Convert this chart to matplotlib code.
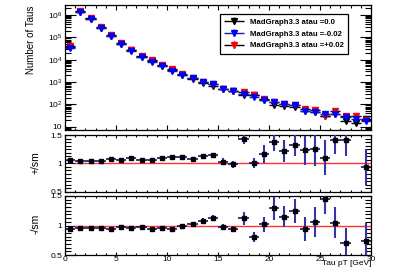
import numpy as np
import matplotlib
matplotlib.use("Agg")
import matplotlib.pyplot as plt
from matplotlib.ticker import MultipleLocator, FixedLocator, FuncFormatter, LogLocator, NullFormatter
from matplotlib.legend_handler import HandlerErrorbar

plt.rcParams['font.family'] = ['Liberation Sans', 'DejaVu Sans']
plt.rcParams['mathtext.fontset'] = 'custom'
plt.rcParams['mathtext.rm'] = 'Liberation Sans'
plt.rcParams['mathtext.default'] = 'regular'

# ---------------- data ----------------
bin_centers = [0.5, 1.5, 2.5, 3.5, 4.5, 5.5, 6.5, 7.5, 8.5, 9.5,
               10.5, 11.5, 12.5, 13.5, 14.5, 15.5, 16.5, 17.5, 18.5, 19.5,
               20.5, 21.5, 22.5, 23.5, 24.5, 25.5, 26.5, 27.5, 28.5, 29.5]

counts_sm = [37200, 1.42e6, 6.95e5, 2.74e5, 1.17e5, 5.15e4, 2.6e4, 1.38e4, 8800, 5260,
             3390, 2150, 1440, 910, 700, 495, 405, 260, 255, 157,
             97, 87, 74, 53, 44, 29, 37, 18, 15, 22]
counts_minus = [35000, 1.35e6, 6.6e5, 2.6e5, 1.1e5, 5.0e4, 2.5e4, 1.35e4, 8300, 5000,
                3200, 2150, 1480, 980, 780, 480, 380, 290, 210, 160,
                125, 100, 93, 50, 47, 39, 39, 28, 23, 18]
counts_plus = [39400, 1.49e6, 7.2e5, 2.87e5, 1.25e5, 5.5e4, 2.85e4, 1.47e4, 9300, 5730,
               3760, 2400, 1550, 1030, 800, 510, 395, 370, 258, 182,
               134, 106, 98, 65, 55, 31, 52, 32, 29, 19.5]

ratio_plus = [1.06, 1.05, 1.04, 1.05, 1.07, 1.06, 1.09, 1.06, 1.06, 1.09,
              1.11, 1.12, 1.08, 1.13, 1.15, 1.03, 0.98, 1.43, 1.01, 1.16,
              1.38, 1.22, 1.32, 1.23, 1.25, 1.10, 1.41, 1.41, 1.60, 0.93]
ratio_plus_err = [0.01, 0.005, 0.005, 0.005, 0.008, 0.01, 0.012, 0.015, 0.018, 0.02,
                  0.025, 0.03, 0.03, 0.04, 0.04, 0.06, 0.06, 0.09, 0.09, 0.16,
                  0.16, 0.19, 0.19, 0.26, 0.29, 0.31, 0.25, 0.28, 0.30, 0.32]
ratio_minus = [0.94, 0.95, 0.95, 0.95, 0.94, 0.97, 0.96, 0.975, 0.945, 0.95,
               0.945, 1.00, 1.03, 1.08, 1.12, 0.97, 0.94, 1.12, 0.81, 1.02,
               1.29, 1.15, 1.25, 0.94, 1.06, 1.45, 1.05, 0.71, 1.60, 0.74]
ratio_minus_err = [0.01, 0.005, 0.005, 0.005, 0.008, 0.01, 0.012, 0.015, 0.018, 0.02,
                   0.025, 0.03, 0.03, 0.04, 0.05, 0.05, 0.05, 0.11, 0.085, 0.13,
                   0.20, 0.18, 0.20, 0.20, 0.25, 0.25, 0.27, 0.25, 0.30, 0.30]

labels = ["MadGraph3.3 atau =0.0", "MadGraph3.3 atau =-0.02", "MadGraph3.3 atau =+0.02"]
xlabel = "Tau pT [GeV]"

# ---------------- figure ----------------
W, H = 399, 275
fig = plt.figure(figsize=(W / 100, H / 100), dpi=100)

def ax_px(left, top, right, bottom):
    return fig.add_axes([left / W, 1 - bottom / H, (right - left) / W, (bottom - top) / H])

ax1 = ax_px(65, 5, 371, 130)
ax2 = ax_px(65, 135, 371, 191.7)
ax3 = ax_px(65, 196, 371, 255)

x = np.array(bin_centers)

# top panel
eb_sm = ax1.errorbar(x, counts_sm, xerr=0.5, yerr=0, fmt='v', color='black', ecolor='black',
                     ms=4.3, mec='black', elinewidth=1.0, capsize=0, zorder=3)
eb_plus = ax1.errorbar(x, counts_plus, xerr=0.5, yerr=0, fmt='v', color='red', ecolor='black',
                       ms=4.3, mec='red', elinewidth=1.0, capsize=0, zorder=4)
eb_minus = ax1.errorbar(x, counts_minus, xerr=0.5, yerr=0, fmt='v', color='blue', ecolor='#1a1aa0',
                        ms=4.3, mec='blue', elinewidth=1.0, capsize=0, zorder=5)
ax1.set_yscale('log')
ax1.set_xlim(0, 30)
ax1.set_ylim(7.2, 2.8e6)

def logfmt(v, pos):
    e = int(round(np.log10(v)))
    return '10' if e == 1 else r'$10^{%d}$' % e

ax1.yaxis.set_major_locator(FixedLocator([1e1, 1e2, 1e3, 1e4, 1e5, 1e6]))
ax1.yaxis.set_major_formatter(FuncFormatter(logfmt))
ax1.yaxis.set_minor_locator(LogLocator(base=10, subs=np.arange(2, 10)))
ax1.yaxis.set_minor_formatter(NullFormatter())
ax1.xaxis.set_major_locator(MultipleLocator(5))
ax1.xaxis.set_minor_locator(MultipleLocator(1))
ax1.tick_params(axis='x', which='both', labelbottom=False)
ax1.tick_params(axis='y', which='major', length=8, labelsize=6, pad=2)
ax1.tick_params(axis='y', which='minor', length=4)
ax1.tick_params(axis='x', which='major', length=3.5)
ax1.tick_params(axis='x', which='minor', length=1.8)

leg = ax1.legend([eb_sm, eb_minus, eb_plus], labels,
                 loc='upper left', bbox_to_anchor=(220 / W, 1 - 14 / H),
                 bbox_transform=fig.transFigure,
                 prop={'size': 5.55, 'weight': 'bold'}, frameon=True, fancybox=False,
                 edgecolor='black', framealpha=1, borderaxespad=0, borderpad=0.55,
                 handlelength=2.6, handletextpad=0.7, labelspacing=0.58, markerscale=0.85,
                 handler_map={type(eb_sm): HandlerErrorbar(xerr_size=1.3, yerr_size=0.45)})
leg.get_frame().set_linewidth(0.9)

# ratio panels
def ratio_panel(ax, r, rerr):
    r = np.array(r)
    rerr = np.array(rerr)
    m = (r >= 0.5) & (r <= 1.5)
    ax.plot([1, 30], [1, 1], color='#ff3333', lw=1.0, zorder=2)
    ax.errorbar(x[m], r[m], yerr=rerr[m], fmt='none', ecolor='#3535a5', elinewidth=1.5,
                capsize=0, zorder=3)
    ax.errorbar(x[m], r[m], xerr=0.5, fmt='s', color='black', ecolor='#16166e', ms=2.8,
                elinewidth=1.2, capsize=0, zorder=4)
    ax.set_xlim(0, 30)
    ax.set_ylim(0.5, 1.5)
    ax.yaxis.set_major_locator(FixedLocator([0.5, 1.0, 1.5]))
    ax.yaxis.set_major_formatter(FuncFormatter(lambda v, p: {0.5: '0.5', 1.0: '1', 1.5: '1.5'}.get(round(v, 2), '')))
    ax.yaxis.set_minor_locator(MultipleLocator(0.0625))
    ax.xaxis.set_major_locator(MultipleLocator(5))
    ax.xaxis.set_minor_locator(MultipleLocator(1))
    ax.tick_params(axis='y', which='major', length=8, labelsize=6, pad=2)
    ax.tick_params(axis='y', which='minor', length=4)
    ax.tick_params(axis='x', which='major', length=2.2)
    ax.tick_params(axis='x', which='minor', length=1.1)

ratio_panel(ax2, ratio_plus, ratio_plus_err)
ratio_panel(ax3, ratio_minus, ratio_minus_err)
ax2.tick_params(axis='x', which='both', labelbottom=False)
ax3.tick_params(axis='x', which='major', labelsize=6, pad=1)

for ax in (ax1, ax2, ax3):
    ax.tick_params(which='both', direction='in', top=True, right=True, width=0.8)
    for s in ax.spines.values():
        s.set_linewidth(0.9)

fig.text(31.5 / W, 1 - 40 / H, "Number of Taus", rotation=90, ha='center', va='center', fontsize=7)
fig.text(36 / W, 1 - 163 / H, "+/sm", rotation=90, ha='center', va='center', fontsize=7.5)
fig.text(36 / W, 1 - 224 / H, "-/sm", rotation=90, ha='center', va='center', fontsize=7.5)
fig.text(372 / W, 1 - 263.5 / H, xlabel, ha='right', va='center', fontsize=6)

fig.savefig("out.png", dpi=100)
